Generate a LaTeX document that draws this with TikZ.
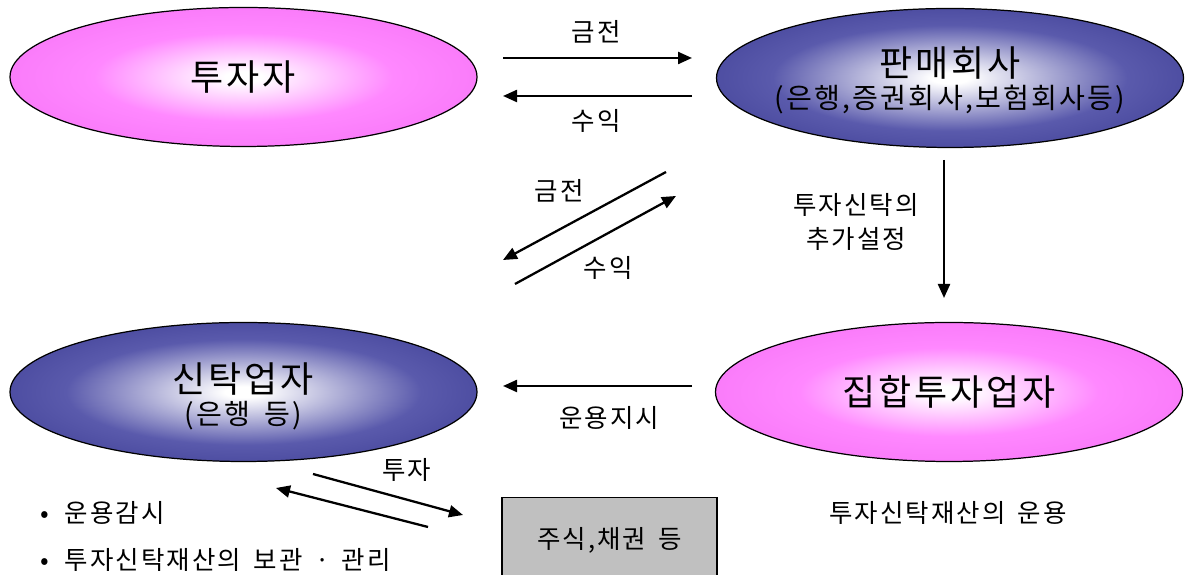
\documentclass[tikz,border=0pt]{standalone}
\usepackage{fontspec}
\setmainfont[LetterSpace=8,WordSpace=1.6]{Noto Sans CJK KR}
\usepackage{tikz}
\usetikzlibrary{positioning,arrows.meta,shapes.geometric,calc}
\definecolor{fdPink}{HTML}{FF88FF}
\definecolor{fdPinkD}{HTML}{FA7CFA}
\definecolor{fdBlue}{HTML}{5A5AAC}
\definecolor{fdBlueD}{HTML}{4E4EA2}
\definecolor{fdGray}{HTML}{C0C0C0}
\pgfdeclareradialshading{fdPinkShade}{\pgfpoint{0bp}{0bp}}{color(0bp)=(white);
  color(2bp)=(white); color(16bp)=(fdPink); color(25bp)=(fdPinkD);
  color(50bp)=(fdPinkD)}
\pgfdeclareradialshading{fdBlueShade}{\pgfpoint{0bp}{0bp}}{color(0bp)=(white);
  color(2bp)=(white); color(19bp)=(fdBlue); color(25bp)=(fdBlueD);
  color(50bp)=(fdBlueD)}
\tikzset{
  fd-oval/.style={
    ellipse, draw=black, line width=0.7pt,
    minimum width=9.34cm, minimum height=2.78cm, inner sep=0pt
  },
  fd-pink/.style={fd-oval, shade, shading=fdPinkShade},
  fd-blue/.style={fd-oval, shade, shading=fdBlueShade},
  fd-title/.style={font=\fontsize{20.5}{24}\selectfont, inner sep=0pt},
  fd-sub/.style={font=\fontsize{16}{19}\selectfont, inner sep=0pt},
  fd-label/.style={font=\fontsize{14.5}{19}\selectfont, align=center,
    inner sep=0pt},
  fd-flow/.style={-{Triangle[length=2.8mm,width=2.4mm]}, line width=1.3pt},
  fd-box/.style={draw=black, line width=0.7pt, fill=fdGray,
    minimum width=4.3cm, minimum height=1.7cm,
    font=\fontsize{14.5}{18}\selectfont}
}

\begin{document}
\begin{tikzpicture}
\useasboundingbox (0,0) rectangle (23.7,11.5);

% ovals
\node[fd-pink] (inv) at (4.87,9.96) {};
\node[fd-title] (invT) at (inv.center) {투자자};
\node[fd-blue] (sell) at (19.0,9.94) {};
\node[fd-title] (sellT) at (19.0,10.24) {판매회사};
\node[fd-sub] (sellS) at (19.0,9.5) {(은행,증권회사,보험회사등)};
\node[fd-blue] (trust) at (4.87,3.66) {};
\node[fd-title] (trustT) at (4.87,3.92) {신탁업자};
\node[fd-sub] (trustS) at (4.87,3.18) {(은행 등)};
\node[fd-pink] (mgr) at (18.98,3.66) {};
\node[fd-title] (mgrT) at (mgr.center) {집합투자업자};

\node[fd-box] (stock) at (12.19,0.7) {주식,채권 등};

% arrow ends
\coordinate (m1a) at (10.06,10.34); \coordinate (m1b) at (13.84,10.34);
\coordinate (r1a) at (13.84,9.58);  \coordinate (r1b) at (10.06,9.58);
\coordinate (m2a) at (13.32,8.06);  \coordinate (m2b) at (10.06,6.30);
\coordinate (r2a) at (10.30,5.82);  \coordinate (r2b) at (13.52,7.58);
\coordinate (adda) at (18.88,8.30); \coordinate (addb) at (18.88,5.54);
\coordinate (orda) at (13.84,3.78); \coordinate (ordb) at (10.06,3.78);
\coordinate (iva) at (6.26,2.02);   \coordinate (ivb) at (9.26,1.20);
\coordinate (rta) at (8.56,0.96);   \coordinate (rtb) at (5.52,1.74);

\draw[fd-flow] (m1a) -- (m1b);
\draw[fd-flow] (r1a) -- (r1b);
\draw[fd-flow] (m2a) -- (m2b);
\draw[fd-flow] (r2a) -- (r2b);
\draw[fd-flow] (adda) -- (addb);
\draw[fd-flow] (orda) -- (ordb);
\draw[fd-flow] (iva) -- (ivb);
\draw[fd-flow] (rta) -- (rtb);

% labels
\node[fd-label] (lm1) at (11.92,10.86) {금전};
\node[fd-label] (lr1) at (11.92,9.08) {수익};
\node[fd-label] (lm2) at (11.18,7.68) {금전};
\node[fd-label] (lr2) at (12.16,6.14) {수익};
\node[fd-label] (ladd) at (17.12,7.06) {투자신탁의\\추가설정};
\node[fd-label] (lord) at (12.18,3.14) {운용지시};
\node[fd-label] (liv) at (8.14,2.1) {투자};
\node[fd-label] (lrun) at (18.96,1.24) {투자신탁재산의 운용};

% duties of the trustee
\node[fd-label, anchor=west] (d1) at (0.8,1.24) {•\hspace{0.32cm}운용감시};
\node[fd-label, anchor=west] (d2) at (0.8,0.3)
  {•\hspace{0.32cm}투자신탁재산의 보관 · 관리};
\end{tikzpicture}
\end{document}
